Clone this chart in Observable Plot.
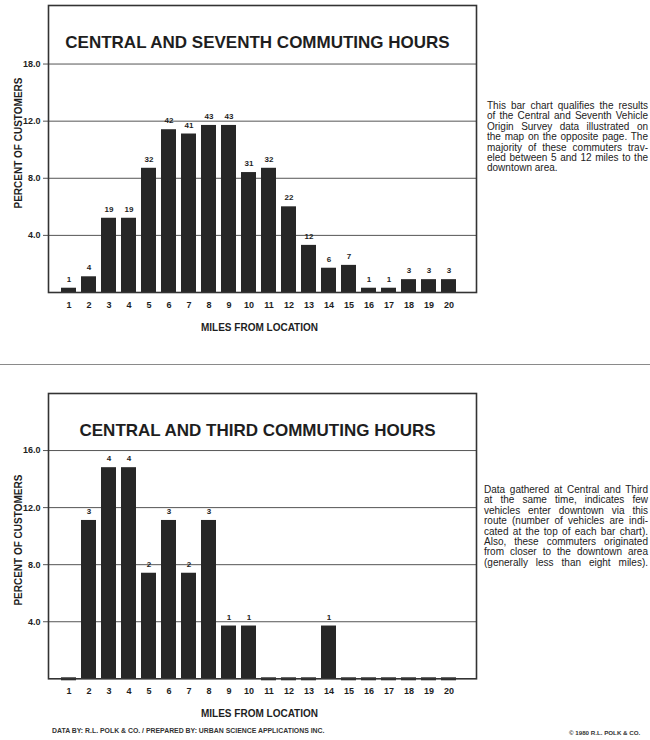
<!DOCTYPE html>
<html><head><meta charset="utf-8">
<script src="https://cdn.jsdelivr.net/npm/d3@7"></script>
<script src="https://cdn.jsdelivr.net/npm/@observablehq/plot@0.6"></script>
<style>
html,body{margin:0;padding:0;background:#fff;overflow:hidden;}
#page{position:relative;width:650px;height:740px;overflow:hidden;font-family:"Liberation Sans",Arial,Helvetica,sans-serif;color:#1e1e1e;background:#fff;}
.chart{position:absolute;left:0;}
.note{position:absolute;font-size:10px;line-height:10.4px;color:#222;}
.note div{text-align:justify;text-align-last:justify;white-space:nowrap;}
.note div.last{text-align-last:left;}
.sep{position:absolute;left:0;top:364px;width:650px;height:0;border-top:1px solid #8a8a8a;}
.foot{position:absolute;font-size:6.9px;font-weight:bold;color:#333;white-space:nowrap;}
</style></head>
<body><div id="page">
<div class="chart" id="c1" style="top:0px"></div>
<div class="sep"></div>
<div class="chart" id="c2" style="top:388px"></div>
<div class="note" style="left:487px;top:101px;width:161px;">
<div>This bar chart qualifies the results</div>
<div>of the Central and Seventh Vehicle</div>
<div>Origin Survey data illustrated on</div>
<div>the map on the opposite page. The</div>
<div>majority of these commuters trav-</div>
<div>eled between 5 and 12 miles to the</div>
<div class="last">downtown area.</div>
</div>
<div class="note" style="left:484px;top:485px;width:164px;">
<div>Data gathered at Central and Third</div>
<div>at the same time, indicates few</div>
<div>vehicles enter downtown via this</div>
<div>route (number of vehicles are indi-</div>
<div>cated at the top of each bar chart).</div>
<div>Also, these commuters originated</div>
<div>from closer to the downtown area</div>
<div>(generally less than eight miles).</div>
</div>
<div class="foot" style="left:52px;top:727px;">DATA BY: R.L. POLK &amp; CO. / PREPARED BY: URBAN SCIENCE APPLICATIONS INC.</div>
<div class="foot" style="left:569px;top:729px;font-size:6.2px;">© 1980 R.L. POLK &amp; CO.</div>
</div>
<script>
const miles = [1,2,3,4,5,6,7,8,9,10,11,12,13,14,15,16,17,18,19,20];
const seventhPct = [0.3,1.1,5.2,5.2,8.7,11.4,11.1,11.7,11.7,8.4,8.7,6.0,3.3,1.7,1.9,0.3,0.3,0.9,0.9,0.9];
const seventhCount = [1,4,19,19,32,42,41,43,43,31,32,22,12,6,7,1,1,3,3,3];
const thirdPct = [0,11.1,14.8,14.8,7.4,11.1,7.4,11.1,3.7,3.7,0,0,0,3.7,0,0,0,0,0,0];
const thirdCount = [null,3,4,4,2,3,2,3,1,1,null,null,null,1,null,null,null,null,null,null];
const yTicks = [4,8,12,16];
const seventhTickLabels = ["4.0","8.0","12.0","18.0"];
const thirdTickLabels = ["4.0","8.0","12.0","16.0"];
const titles = ["CENTRAL AND SEVENTH COMMUTING HOURS","CENTRAL AND THIRD COMMUTING HOURS"];
const yTitle = "PERCENT OF CUSTOMERS";
const xTitle = "MILES FROM LOCATION";

const FONT = "'Liberation Sans', Arial, Helvetica, sans-serif";
const BAR = "#272727";

function chart({title, pct, count, tickLabels, yTop, baseline, yLabelDy}) {
  const H = 345;
  const data = miles.map((m, i) => ({mile: m, pct: pct[i], count: count[i]}));
  return Plot.plot({
    width: 480, height: H,
    marginLeft: 48, marginRight: 4, marginTop: 5, marginBottom: H - baseline,
    style: {fontFamily: FONT, background: "transparent", color: "#1e1e1e"},
    x: {type: "band", domain: miles, range: [49.9, 467.1], paddingInner: 0.27, paddingOuter: 0.27, axis: null},
    y: {domain: [0, yTop], axis: null},
    marks: [
      Plot.gridY(yTicks, {stroke: "#555", strokeOpacity: 1, strokeWidth: 1}),
      Plot.axisY(yTicks, {tickSize: 5, tickPadding: 3, tickFormat: d => tickLabels[yTicks.indexOf(d)], fontSize: 9, fontWeight: "bold", label: null, stroke: "#555"}),
      Plot.axisX({tickSize: 0, tickPadding: 9, fontSize: 9, fontWeight: "bold", label: null}),
      Plot.barY(data, {x: "mile", y: "pct", fill: BAR}),
      Plot.tickY(data.filter(d => d.pct === 0), {x: "mile", y: 0, stroke: BAR, strokeWidth: 3}),
      Plot.text(data.filter(d => d.count != null), {x: "mile", y: "pct", text: d => String(d.count), dy: -9, fontSize: 8, fontWeight: "bold"}),
      Plot.frame({stroke: "#333", strokeWidth: 1.6}),
      Plot.text([title], {text: d => d, frameAnchor: "top", dy: 30, dx: -5, fontSize: 17, fontWeight: "bold"}),
      Plot.text([yTitle], {text: d => d, frameAnchor: "left", textAnchor: "middle", dx: -30, dy: yLabelDy, rotate: -90, fontSize: 10, fontWeight: "bold"}),
      Plot.text([xTitle], {text: d => d, frameAnchor: "bottom", dy: 38, dx: -3, fontSize: 10, fontWeight: "bold"})
    ]
  });
}

document.getElementById("c1").append(chart({
  title: titles[0], pct: seventhPct, count: seventhCount, tickLabels: seventhTickLabels,
  yTop: 20.1, baseline: 292, yLabelDy: -6
}));
document.getElementById("c2").append(chart({
  title: titles[1], pct: thirdPct, count: thirdCount, tickLabels: thirdTickLabels,
  yTop: 20.0, baseline: 290.3, yLabelDy: 4
}));
</script>
</body></html>
